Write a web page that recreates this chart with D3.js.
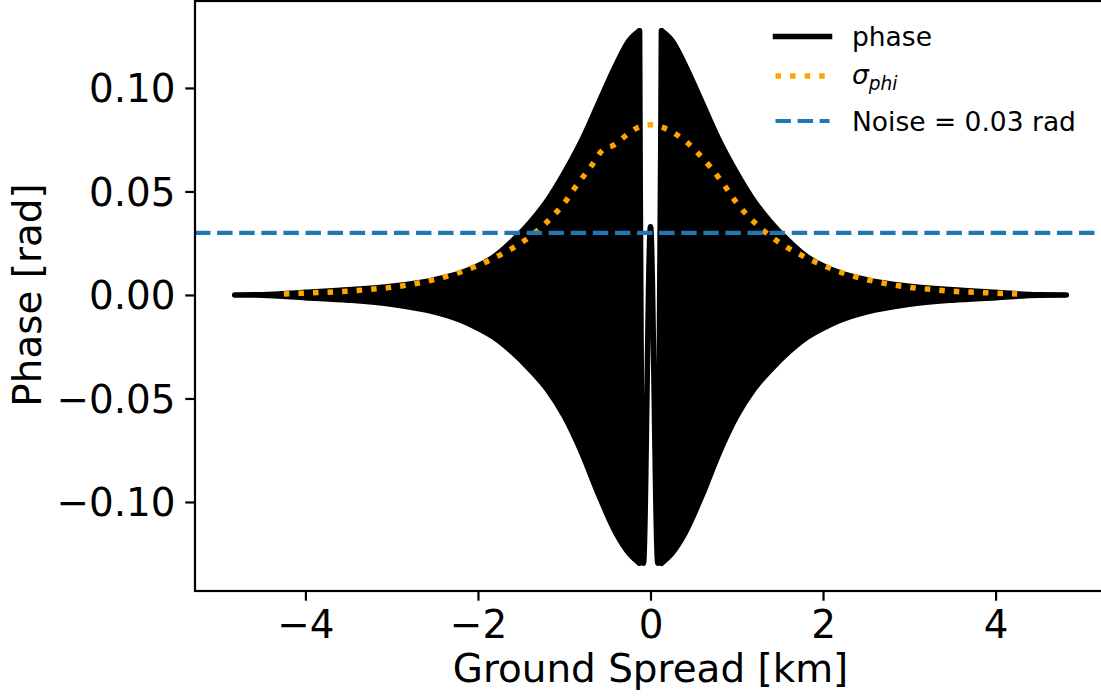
<!DOCTYPE html>
<html>
<head>
<meta charset="utf-8">
<script src="https://cdn.jsdelivr.net/npm/d3@7/dist/d3.min.js"></script>
<style>
  html, body { margin: 0; padding: 0; background: #fff; }
  svg { display: block; font-family: "DejaVu Sans", sans-serif; }
</style>
</head>
<body>
<svg id="chart" width="1101" height="700"></svg>
<script>
// ---------------- data ----------------
// phase: dense oscillation, given by its upper / lower envelope on each side
const phaseLeftX     = [-4.82, -4.5, -4.0, -3.5, -3.0, -2.5, -2.2, -2.0, -1.8, -1.6, -1.4, -1.2, -1.0, -0.8, -0.6, -0.4, -0.25, -0.128];
const phaseLeftUpper = [0.0, 0.0001, 0.0013, 0.0025, 0.0042, 0.0074, 0.0107, 0.0141, 0.0189, 0.0262, 0.0349, 0.0455, 0.059, 0.0745, 0.0929, 0.1112, 0.1228, 0.1276];
const phaseLeftLower = [0.0, -0.0001, -0.0013, -0.0025, -0.0045, -0.0083, -0.0122, -0.0161, -0.0209, -0.0277, -0.0359, -0.0455, -0.0586, -0.076, -0.0967, -0.1151, -0.1248, -0.1296];
const phaseRightX     = [0.128, 0.25, 0.4, 0.6, 0.8, 1.0, 1.2, 1.4, 1.6, 1.8, 2.0, 2.2, 2.5, 3.0, 3.5, 4.0, 4.5, 4.82];
const phaseRightUpper = [0.1276, 0.1228, 0.1112, 0.0929, 0.0745, 0.059, 0.0455, 0.0349, 0.0262, 0.0189, 0.0141, 0.0107, 0.0074, 0.0042, 0.0025, 0.0013, 0.0001, 0.0];
const phaseRightLower = [-0.1296, -0.1248, -0.1151, -0.0967, -0.076, -0.0586, -0.0455, -0.0359, -0.0277, -0.0209, -0.0161, -0.0122, -0.0083, -0.0045, -0.0025, -0.0013, -0.0001, 0.0];
// phase: the slow central swings that are resolved as single strokes
const phaseCenterX = [-0.128, -0.082, 0.0, 0.085, 0.128];
const phaseCenterY = [0.1276, -0.1296, 0.033, -0.1296, 0.1276];

// sigma_phi (orange dotted)
const sigmaX = [-4.25, -4.0, -3.75, -3.5, -3.25, -3.0, -2.75, -2.5, -2.25, -2.0, -1.75, -1.5, -1.25, -1.0, -0.85, -0.7, -0.55, -0.42, -0.3, -0.15, 0.0,
                0.15, 0.3, 0.42, 0.55, 0.7, 0.85, 1.0, 1.25, 1.5, 1.75, 2.0, 2.25, 2.5, 2.75, 3.0, 3.25, 3.5, 3.75, 4.0, 4.25];
const sigmaY = [0.0005, 0.0009, 0.0013, 0.0018, 0.0027, 0.0037, 0.0053, 0.0075, 0.0104, 0.0143, 0.0192, 0.0251, 0.0333, 0.0444, 0.0533, 0.0615, 0.0702, 0.0725, 0.0765, 0.0808, 0.0822,
                0.0808, 0.0775, 0.0738, 0.0685, 0.0615, 0.0533, 0.0444, 0.0333, 0.0251, 0.0192, 0.0143, 0.0104, 0.0075, 0.0053, 0.0037, 0.0027, 0.0018, 0.0013, 0.0009, 0.0005];

// noise level
const noiseLevel = 0.03;

// ticks
const xTickValues = [-4, -2, 0, 2, 4];
const xTickLabels = ["\u22124", "\u22122", "0", "2", "4"];
const yTickValues = [0.10, 0.05, 0.00, -0.05, -0.10];
const yTickLabels = ["0.10", "0.05", "0.00", "\u22120.05", "\u22120.10"];

const legendLabels = ["phase", "sigma", "Noise = 0.03 rad"];

// ---------------- drawing ----------------
const svg = d3.select("#chart");
const L = 195, R = 1106, T = 1, B = 591;
const x = d3.scaleLinear().domain([-5.28, 5.28]).range([L, R]);
const y = d3.scaleLinear().domain([-0.143, 0.142]).range([B, T]);

const fontBig = 38.9;
const lwPhase = 5.5, lwSigma = 5.5, lwNoise = 4.17;
const spineW = 2.2;

const plot = svg.append("g");

// phase envelope areas
const area = d3.area()
  .x(d => x(d.x)).y0(d => y(d.lo)).y1(d => y(d.hi))
  .curve(d3.curveMonotoneX);
const leftData = phaseLeftX.map((v, i) => ({x: v, hi: phaseLeftUpper[i], lo: phaseLeftLower[i]}));
const rightData = phaseRightX.map((v, i) => ({x: v, hi: phaseRightUpper[i], lo: phaseRightLower[i]}));
[leftData, rightData].forEach(dat => {
  plot.append("path").attr("d", area(dat))
    .attr("fill", "#000").attr("stroke", "#000")
    .attr("stroke-width", lwPhase).attr("stroke-linejoin", "round");
});
// phase central strokes
const centerLine = d3.line().x(d => x(d[0])).y(d => y(d[1])).curve(d3.curveMonotoneX);
plot.append("path")
  .attr("d", centerLine(phaseCenterX.map((v, i) => [v, phaseCenterY[i]])))
  .attr("fill", "none").attr("stroke", "#000")
  .attr("stroke-width", lwPhase).attr("stroke-linejoin", "round").attr("stroke-linecap", "round");

// sigma_phi
const sigLine = d3.line().x(d => x(d[0])).y(d => y(d[1])).curve(d3.curveMonotoneX);
plot.append("path")
  .attr("d", sigLine(sigmaX.map((v, i) => [v, sigmaY[i]])))
  .attr("fill", "none").attr("stroke", "#FFA500")
  .attr("stroke-width", lwSigma)
  .attr("stroke-dasharray", `${1 * lwSigma} ${1.65 * lwSigma}`);

// noise line
plot.append("line")
  .attr("x1", L).attr("x2", R).attr("y1", y(noiseLevel)).attr("y2", y(noiseLevel))
  .attr("stroke", "#1f77b4").attr("stroke-width", lwNoise)
  .attr("stroke-dasharray", `${3.7 * lwNoise} ${1.6 * lwNoise}`);

// axes
const xAxis = d3.axisBottom(x).tickValues(xTickValues)
  .tickFormat((d, i) => xTickLabels[i]).tickSize(9.7).tickPadding(9.7);
const gx = svg.append("g").attr("transform", `translate(0,${B})`).call(xAxis);
const yAxis = d3.axisLeft(y).tickValues(yTickValues)
  .tickFormat((d, i) => yTickLabels[i]).tickSize(9.7).tickPadding(9.7);
const gy = svg.append("g").attr("transform", `translate(${L},0)`).call(yAxis);
[gx, gy].forEach(g => {
  g.select(".domain").remove();
  g.selectAll(".tick line").attr("stroke", "#000").attr("stroke-width", spineW);
  g.selectAll(".tick text").attr("fill", "#000")
    .style("font-family", "DejaVu Sans").style("font-size", fontBig + "px");
});
gy.selectAll(".tick text").attr("dy", "0.36em");

// spines
svg.append("rect").attr("x", L).attr("y", T).attr("width", R - L).attr("height", B - T)
  .attr("fill", "none").attr("stroke", "#000").attr("stroke-width", spineW);

// axis labels
svg.append("text").attr("x", x(0)).attr("y", 682).attr("text-anchor", "middle")
  .style("font-size", fontBig + "px").attr("fill", "#000").text("Ground Spread [km]");
svg.append("text").attr("transform", `translate(41,${y(0)}) rotate(-90)`)
  .attr("text-anchor", "middle")
  .style("font-size", fontBig + "px").attr("fill", "#000").text("Phase [rad]");

// legend
const lg = svg.append("g");
const lx0 = 775.5, lx1 = 829.5, tx = 852, fsL = 26.5;
const rowsY = [36.5, 76, 121];
const baseY = [46.3, 83.5, 130.5];
lg.append("line").attr("x1", lx0).attr("x2", lx1).attr("y1", rowsY[0]).attr("y2", rowsY[0])
  .attr("stroke", "#000").attr("stroke-width", lwPhase).attr("stroke-linecap", "square");
lg.append("line").attr("x1", lx0).attr("x2", lx1).attr("y1", rowsY[1]).attr("y2", rowsY[1])
  .attr("stroke", "#FFA500").attr("stroke-width", lwSigma)
  .attr("stroke-dasharray", `${1 * lwSigma} ${1.65 * lwSigma}`);
lg.append("line").attr("x1", lx0).attr("x2", lx1).attr("y1", rowsY[2]).attr("y2", rowsY[2])
  .attr("stroke", "#1f77b4").attr("stroke-width", lwNoise)
  .attr("stroke-dasharray", `${3.7 * lwNoise} ${1.6 * lwNoise}`);
lg.append("text").attr("x", tx).attr("y", baseY[0]).style("font-size", fsL + "px").text(legendLabels[0]);
const st = lg.append("text").attr("x", tx).attr("y", baseY[1]).style("font-size", fsL + "px");
st.append("tspan").style("font-style", "italic").text("\u03C3");
st.append("tspan").style("font-style", "italic").style("font-size", (fsL * 0.7) + "px")
  .attr("dy", 6).text("phi");
lg.append("text").attr("x", tx).attr("y", baseY[2]).style("font-size", fsL + "px").text(legendLabels[2]);
</script>
</body>
</html>
